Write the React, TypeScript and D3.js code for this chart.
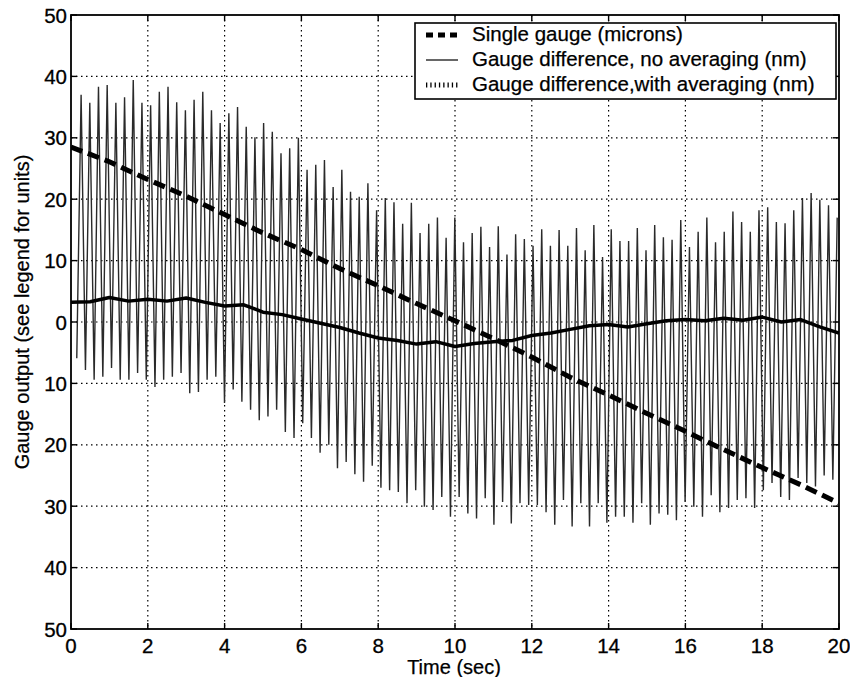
import React from "react";
import * as d3 from "d3";

const width = 850;
const height = 677;
const margin = { top: 15, right: 11, bottom: 48, left: 71 };
const font = "'Liberation Sans', Arial, Helvetica, sans-serif";

// x ticks (seconds) and y ticks (labels shown without sign, as in the scan)
const xTicks = [0, 2, 4, 6, 8, 10, 12, 14, 16, 18, 20];
const yTicks = [-50, -40, -30, -20, -10, 0, 10, 20, 30, 40, 50];

// single gauge (microns), sampled every second
const gaugeTime = [0, 1, 2, 3, 4, 5, 6, 7, 8, 9, 10, 11, 12, 13, 14, 15, 16, 17, 18, 19, 20];
const gaugeValue = [28.5, 26.1, 23.2, 20.5, 17.5, 14.5, 11.8, 8.7, 5.9, 3.0, 0.2, -2.7, -5.7, -9.0, -11.9, -14.9, -17.8, -20.8, -23.7, -26.5, -29.5];

// averaged gauge difference (nm), every half second
const avgTime = [0, 0.5, 1, 1.5, 2, 2.5, 3, 3.5, 4, 4.5, 5, 5.5, 6, 6.5, 7, 7.5, 8, 8.5, 9, 9.5, 10,
  10.5, 11, 11.5, 12, 12.5, 13, 13.5, 14, 14.5, 15, 15.5, 16, 16.5, 17, 17.5, 18, 18.5, 19, 19.5, 20];
const avgValue = [3.2, 3.3, 4.0, 3.4, 3.7, 3.4, 3.9, 3.2, 2.6, 2.8, 1.6, 1.2, 0.5, -0.2, -0.9, -1.8, -2.6, -3.0, -3.6, -3.2, -4.0,
  -3.5, -3.2, -3.0, -2.2, -1.8, -1.2, -0.6, -0.4, -0.8, -0.3, 0.2, 0.4, 0.2, 0.6, 0.3, 0.8, 0.0, 0.4, -0.8, -1.8];

// raw gauge difference (nm): one trough and one peak per cycle
const rawStart = 0.15;
const rawEnd = 19.84;
const rawTroughs = [
  -5.9, -7.8, -9.4, -8.9, -7.5, -9.4, -9.4, -8.3, -9.4, -10.6, -9.4, -8.9, -8.3, -11.6, -11.4, -9.4, -8.9, -13.2, -11, -13, -14.3, -16, -15.4, -14.3, -17.9,
  -18.9, -16.5, -18.9, -21.3, -20, -23.8, -22.8, -24.8, -26, -23.4, -27, -27.4, -27.7, -29.5, -27.4, -30.1, -30.6, -28.5, -31.7, -28.5, -31.2, -32,
  -28.7, -33, -29.3, -32.8, -29.5, -29.8, -29.8, -31, -33, -29, -33.3, -29.5, -33.3, -29.5, -32.7, -31.7, -31.7, -32.7, -29.5, -33,
  -31.2, -31.4, -32.3, -29.3, -30.1, -31.7, -28.2, -31, -30.3, -29, -28.7, -30.3, -27.4, -26.2, -28.5, -29, -25.4, -26.2, -26.8, -25, -25.7
];
const rawPeaks = [
  37, 35.7, 38.3, 38.6, 35.7, 36.6, 39.4, 35.7, 35.3, 37.5, 38.3, 35.8, 34.5, 36.2, 37.5, 34.5, 32.4, 34, 35, 31.8, 30.1, 32.4, 31, 27.5, 28.3,
  30, 24.8, 25.6, 26.4, 22, 24.8, 21.2, 20.4, 22.6, 18.2, 20.2, 19.5, 16, 19.4, 14.5, 16, 17, 13.7, 17, 13, 14.5, 15.5,
  12.2, 15.6, 11, 14.3, 13.5, 12.4, 15.1, 12.4, 15, 12.4, 15.3, 11.7, 15.8, 10.6, 15.1, 13.2, 13.2, 15.3, 11.7, 15.8, 13.8,
  13.4, 16.6, 12.2, 14.7, 17, 13, 14.7, 18, 16.3, 14.7, 18.2, 18.7, 16.3, 16.1, 18.2, 20.2, 21, 19.9, 19, 17
];

const legendLabels = [
  "Single gauge (microns)",
  "Gauge difference, no averaging (nm)",
  "Gauge difference,with averaging (nm)"
];

export default function App() {
  const x = d3.scaleLinear().domain([0, 20]).range([margin.left, width - margin.right]);
  const y = d3.scaleLinear().domain([-50, 50]).range([height - margin.bottom, margin.top]);
  const [x0, x1] = x.range();
  const [yb, yt] = y.range();

  const line = d3.line<[number, number]>().x((d) => x(d[0])).y((d) => y(d[1]));

  const dt = (rawEnd - rawStart) / (rawTroughs.length - 1);
  const rawPts: [number, number][] = [];
  rawTroughs.forEach((v, i) => {
    rawPts.push([rawStart + i * dt, v]);
    rawPts.push([rawStart + i * dt + dt / 2, rawPeaks[i]]);
  });

  const gaugePts = gaugeTime.map((t, i) => [t, gaugeValue[i]] as [number, number]);
  const avgPts = avgTime.map((t, i) => [t, avgValue[i]] as [number, number]);

  const lg = { x: 415, y: 23, w: 421, h: 76 };

  return (
    <svg width={width} height={height} style={{ display: "block", position: "absolute", left: 0, top: 0, background: "#fff" }}>
      <defs>
        <clipPath id="plot">
          <rect x={x0} y={yt} width={x1 - x0} height={yb - yt} />
        </clipPath>
      </defs>

      {/* grid */}
      <g stroke="#000" strokeWidth={1.2} strokeDasharray="1.5,3.5">
        {xTicks.slice(1, -1).map((t) => (
          <line key={"gx" + t} x1={x(t)} x2={x(t)} y1={yt} y2={yb} />
        ))}
        {yTicks.slice(1, -1).map((t) => (
          <line key={"gy" + t} x1={x0} x2={x1} y1={y(t)} y2={y(t)} />
        ))}
      </g>

      <g clipPath="url(#plot)" fill="none">
        <path d={line(rawPts) || ""} stroke="#2a2a2a" strokeWidth={1.4} />
        <path d={line(avgPts) || ""} stroke="#000" strokeWidth={3.5} strokeLinejoin="round" />
        <path d={line(gaugePts) || ""} stroke="#000" strokeWidth={5} strokeDasharray="12,6" />
      </g>

      {/* frame and inward ticks */}
      <rect x={x0} y={yt} width={x1 - x0} height={yb - yt} fill="none" stroke="#000" strokeWidth={1.8} />
      <g stroke="#000" strokeWidth={1.4}>
        {xTicks.map((t) => (
          <g key={"tx" + t}>
            <line x1={x(t)} x2={x(t)} y1={yb} y2={yb - 6} />
            <line x1={x(t)} x2={x(t)} y1={yt} y2={yt + 6} />
          </g>
        ))}
        {yTicks.map((t) => (
          <g key={"ty" + t}>
            <line x1={x0} x2={x0 + 6} y1={y(t)} y2={y(t)} />
            <line x1={x1} x2={x1 - 6} y1={y(t)} y2={y(t)} />
          </g>
        ))}
      </g>

      {/* tick labels */}
      <g fontFamily={font} fontSize={20.5} fill="#000" stroke="#000" strokeWidth={0.3}>
        {xTicks.map((t) => (
          <text key={"lx" + t} x={x(t)} y={yb + 24} textAnchor="middle">{t}</text>
        ))}
        {yTicks.map((t) => (
          <text key={"ly" + t} x={x0 - 4} y={y(t) + 7.5} textAnchor="end">{Math.abs(t)}</text>
        ))}
      </g>

      <g fontFamily={font} fontSize={20} fill="#000" stroke="#000" strokeWidth={0.25}>
        <text x={454} y={674} textAnchor="middle">Time (sec)</text>
        <text transform={`translate(29, 312) rotate(-90)`} textAnchor="middle">
          Gauge output (see legend for units)
        </text>
      </g>

      {/* legend */}
      <rect x={lg.x} y={lg.y} width={lg.w} height={lg.h} fill="#fff" stroke="#000" strokeWidth={1.6} />
      <line x1={426} x2={458} y1={lg.y + 12} y2={lg.y + 12} stroke="#000" strokeWidth={5} strokeDasharray="7,5" />
      <line x1={426} x2={458} y1={lg.y + 37} y2={lg.y + 37} stroke="#000" strokeWidth={1.2} />
      <line x1={426} x2={458} y1={lg.y + 62} y2={lg.y + 62} stroke="#000" strokeWidth={5} strokeDasharray="1.3,3" />
      <g fontFamily={font} fontSize={20.5} fill="#000" stroke="#000" strokeWidth={0.25}>
        {legendLabels.map((s, i) => (
          <text key={s} x={472} y={lg.y + 18 + i * 25}>{s}</text>
        ))}
      </g>
    </svg>
  );
}
